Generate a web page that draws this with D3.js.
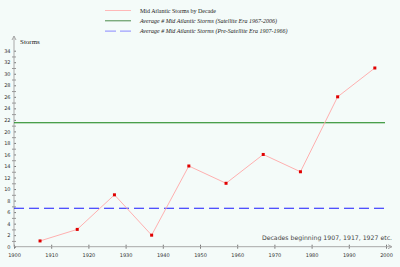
<!DOCTYPE html>
<html>
<head>
<meta charset="utf-8">
<script src="https://cdn.jsdelivr.net/npm/d3@7"></script>
<style>
  html, body { margin: 0; padding: 0; background: #f4fbf9; }
  svg { display: block; }
</style>
</head>
<body>
<div id="container"></div>
<script>
var decades = [1907, 1917, 1927, 1937, 1947, 1957, 1967, 1977, 1987, 1997]
var storms = [1, 3, 9, 2, 14, 11, 16, 13, 26, 31]
var preSatelliteAvg = [6.67]
var satelliteAvg = [21.5]
var xTickValues = [1900, 1910, 1920, 1930, 1940, 1950, 1960, 1970, 1980, 1990, 2000]
var yTickValues = [0, 2, 4, 6, 8, 10, 12, 14, 16, 18, 20, 22, 24, 26, 28, 30, 32, 34]
var legendLabels = [
  'Mid Atlantic Storms by Decade',
  'Average # Mid Atlantic Storms (Satellite Era 1967-2006)',
  'Average # Mid Atlantic Storms (Pre-Satellite Era 1907-1966)'
]

var width = 400
var height = 267

var svg = d3.select('#container').append('svg')
  .attr('width', width)
  .attr('height', height)

svg.append('rect')
  .attr('width', width)
  .attr('height', height)
  .attr('fill', '#f4fbf9')

var x = d3.scaleLinear().domain([1900, 2000]).range([14, 386])
var y = d3.scaleLinear().domain([0, 34]).range([246.7, 50.7])

var axisColor = '#a8a8a8'

// x axis
var xAxis = svg.append('g')
  .attr('transform', 'translate(0,' + y(0) + ')')
  .call(d3.axisBottom(x).tickValues(xTickValues).tickFormat(d3.format('d')).tickSize(2).tickSizeOuter(0))
xAxis.select('.domain').remove()
xAxis.append('line')
  .attr('x1', x(1900)).attr('x2', 392)
  .attr('stroke', axisColor)
xAxis.append('path')
  .attr('d', 'M392,0L388,-2M392,0L388,2')
  .attr('stroke', axisColor).attr('fill', 'none')
xAxis.selectAll('.tick line').attr('stroke', '#777').attr('y1', -2)
xAxis.selectAll('.tick text')
  .attr('font-family', 'DejaVu Sans, sans-serif')
  .attr('font-size', 5)
  .attr('fill', '#333')
  .attr('dy', '1.1em')

// y axis
var yAxis = svg.append('g')
  .attr('transform', 'translate(' + x(1900) + ',0)')
  .call(d3.axisLeft(y).tickValues(yTickValues).tickSize(3).tickSizeOuter(0))
yAxis.select('.domain').remove()
yAxis.append('line')
  .attr('y1', y(0)).attr('y2', 36)
  .attr('stroke', axisColor)
yAxis.append('path')
  .attr('d', 'M0,36L-2,40M0,36L2,40')
  .attr('stroke', axisColor).attr('fill', 'none')
yAxis.selectAll('.tick line').attr('stroke', '#777').attr('x2', 2)
yAxis.selectAll('.tick text')
  .attr('font-family', 'DejaVu Sans, sans-serif')
  .attr('font-size', 5)
  .attr('fill', '#333')
  .attr('x', -3.5)

var minorTicks = d3.range(1, 34, 2)
yAxis.selectAll('line.minor')
  .data(minorTicks)
  .enter()
  .append('line')
  .attr('class', 'minor')
  .attr('x1', -2).attr('x2', 2)
  .attr('y1', function(d){ return y(d) + 0.5 })
  .attr('y2', function(d){ return y(d) + 0.5 })
  .attr('stroke', '#999')

svg.append('text')
  .attr('x', 20)
  .attr('y', 44)
  .attr('font-family', 'Liberation Serif, serif')
  .attr('font-size', 7)
  .attr('fill', '#222')
  .text('Storms')

// average lines
svg.append('line')
  .attr('x1', x(1900)).attr('x2', 385)
  .attr('y1', y(satelliteAvg[0])).attr('y2', y(satelliteAvg[0]))
  .attr('stroke', '#108010').attr('stroke-width', 1.2)

svg.append('line')
  .attr('x1', x(1900)).attr('x2', 385)
  .attr('y1', y(preSatelliteAvg[0])).attr('y2', y(preSatelliteAvg[0]))
  .attr('stroke', '#1a1aff').attr('stroke-width', 1.2)
  .attr('stroke-dasharray', '10,5')

// storms line
var line = d3.line()
  .x(function(d, i){ return x(decades[i]) })
  .y(function(d){ return y(d) })

svg.append('path')
  .attr('d', line(storms))
  .attr('fill', 'none')
  .attr('stroke', '#ffb0b0')
  .attr('stroke-width', 1)

svg.selectAll('rect.pt')
  .data(storms)
  .enter()
  .append('rect')
  .attr('class', 'pt')
  .attr('x', function(d, i){ return x(decades[i]) - 1.5 })
  .attr('y', function(d){ return y(d) - 1.5 })
  .attr('width', 3)
  .attr('height', 3)
  .attr('fill', '#e00000')

svg.append('text')
  .attr('x', 392)
  .attr('y', 240)
  .attr('text-anchor', 'end')
  .attr('font-family', 'DejaVu Sans, sans-serif')
  .attr('font-size', 6.2)
  .attr('fill', '#444')
  .text('Decades beginning 1907, 1917, 1927 etc.')

// legend
var legendColors = ['#ffb8b8', '#4a8a4a', '#8888ff']
var legendDash = [null, null, '11,4']
var legend = svg.selectAll('g.legend')
  .data(legendLabels)
  .enter()
  .append('g')
  .attr('class', 'legend')
  .attr('transform', function(d, i){ return 'translate(105,' + (10.5 + i * 10.3) + ')' })

legend.append('line')
  .attr('x1', 0).attr('x2', 26)
  .attr('stroke', function(d, i){ return legendColors[i] })
  .attr('stroke-width', 1)
  .attr('stroke-dasharray', function(d, i){ return legendDash[i] })

legend.append('text')
  .attr('x', 35)
  .attr('y', 2)
  .attr('font-family', 'Liberation Serif, serif')
  .attr('font-size', 6)
  .attr('fill', '#222')
  .attr('font-style', function(d, i){ return i > 0 ? 'italic' : 'normal' })
  .text(function(d){ return d })
</script>
</body>
</html>
